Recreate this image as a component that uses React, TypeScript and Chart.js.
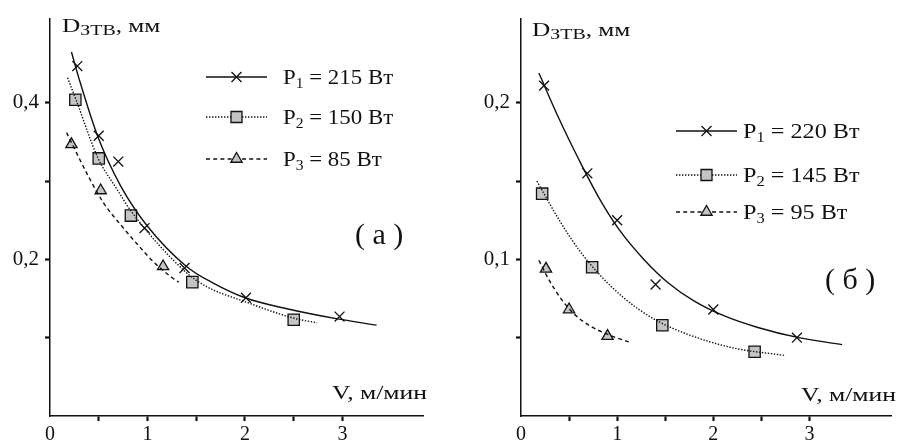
import React, { useEffect, useRef } from 'react';
import { Chart, registerables } from 'chart.js';

Chart.register(...registerables);

// ---------- Panel (a) ----------
const aP1CurveV = [0.22, 0.30, 0.49, 0.72, 0.99, 1.40, 1.67, 2.00, 2.43, 2.95, 3.35];
const aP1CurveD = [0.465, 0.430, 0.357, 0.295, 0.244, 0.191, 0.170, 0.151, 0.137, 0.124, 0.116];
const aP1PointsV = [0.28, 0.50, 0.70, 0.97, 1.38, 2.01, 2.97];
const aP1PointsD = [0.447, 0.358, 0.325, 0.240, 0.189, 0.151, 0.127];

const aP2CurveV = [0.18, 0.27, 0.49, 0.69, 0.83, 1.40, 1.61, 2.00, 2.50, 2.74];
const aP2CurveD = [0.432, 0.403, 0.330, 0.289, 0.262, 0.183, 0.165, 0.146, 0.125, 0.119];
const aP2PointsV = [0.26, 0.50, 0.83, 1.46, 2.50];
const aP2PointsD = [0.404, 0.329, 0.256, 0.171, 0.123];

const aP3CurveV = [0.17, 0.39, 0.55, 0.74, 0.92, 1.06, 1.26, 1.32];
const aP3CurveD = [0.362, 0.307, 0.272, 0.242, 0.216, 0.197, 0.176, 0.171];
const aP3PointsV = [0.22, 0.52, 1.16];
const aP3PointsD = [0.347, 0.288, 0.191];

const aPowers = ['215', '150', '85'];
const aYTicks = [0.1, 0.2, 0.3, 0.4];
const aYLabels = [0.2, 0.4];

// ---------- Panel (б) ----------
const bP1CurveV = [0.186, 0.402, 0.608, 0.814, 1.021, 1.278, 1.536, 1.794, 2.103, 2.464, 2.876, 3.340];
const bP1CurveD = [0.219, 0.189, 0.163, 0.139, 0.119, 0.100, 0.0848, 0.0737, 0.0642, 0.0565, 0.0502, 0.0456];
const bP1PointsV = [0.24, 0.69, 1.00, 1.40, 2.00, 2.87];
const bP1PointsD = [0.211, 0.155, 0.125, 0.084, 0.068, 0.050];

const bP2CurveV = [0.165, 0.402, 0.608, 0.814, 1.072, 1.381, 1.742, 2.206, 2.753];
const bP2CurveD = [0.150, 0.1247, 0.1057, 0.0905, 0.0753, 0.062, 0.052, 0.0435, 0.0386];
const bP2PointsV = [0.22, 0.74, 1.47, 2.43];
const bP2PointsD = [0.142, 0.095, 0.058, 0.041];

const bP3CurveV = [0.186, 0.299, 0.423, 0.557, 0.711, 0.918, 1.124];
const bP3CurveD = [0.0994, 0.0861, 0.0743, 0.0649, 0.0578, 0.0517, 0.0473];
const bP3PointsV = [0.26, 0.50, 0.90];
const bP3PointsD = [0.094, 0.068, 0.051];

const bPowers = ['220', '145', '95'];
const bYTicks = [0.05, 0.1, 0.15, 0.2];
const bYLabels = [0.1, 0.2];

// ---------- shared ----------
const xTickValues = [0, 0.5, 1, 1.5, 2, 2.5, 3];
const xLabelValues = [0, 1, 2, 3];
const seriesSubs = ['1', '2', '3'];

const FONT = "'Liberation Serif', 'Times New Roman', Times, serif";
const INK = '#111';
const MARK_FILL = '#c4c4c4';
const DASHES: number[][] = [[], [1.4, 1.6], [4, 3.2]];
const POINT_STYLES = ['crossRot', 'rect', 'triangle'];
const POINT_RADII = [7, 8, 6.5];

const zip = (vs: number[], ds: number[]) => vs.map((v, i) => ({ x: v, y: ds[i] }));
const near = (a: number, b: number) => Math.abs(a - b) < 1e-6;

function drawMarker(ctx: CanvasRenderingContext2D, kind: number, x: number, y: number) {
  ctx.save();
  ctx.strokeStyle = INK;
  ctx.fillStyle = MARK_FILL;
  ctx.lineWidth = 1.3;
  ctx.setLineDash([]);
  ctx.beginPath();
  if (kind === 0) {
    const o = 5;
    ctx.moveTo(x - o, y - o); ctx.lineTo(x + o, y + o);
    ctx.moveTo(x - o, y + o); ctx.lineTo(x + o, y - o);
    ctx.stroke();
  } else if (kind === 1) {
    ctx.rect(x - 5.5, y - 5.5, 11, 11);
    ctx.fill(); ctx.stroke();
  } else {
    const r = 6.5;
    ctx.moveTo(x, y - r);
    ctx.lineTo(x + r * 0.866, y + r * 0.5);
    ctx.lineTo(x - r * 0.866, y + r * 0.5);
    ctx.closePath();
    ctx.fill(); ctx.stroke();
  }
  ctx.restore();
}

type Panel = {
  curves: { x: number; y: number }[][];
  points: { x: number; y: number }[][];
  powers: string[];
  yTicks: number[];
  yLabels: number[];
  xMax: number;
  yMax: number;
  axisWidth: number;
  padRight: number;
  titleX: number; titleY: number;
  vRight: number; vY: number;
  legX1: number; legX2: number; legYs: number[]; legTextX: number; legScale: number;
  tag: string; tagX: number; tagY: number;
};

// main text + subscript + rest, with horizontal stretch sx
function sub(
  ctx: CanvasRenderingContext2D, main: string, s: string, rest: string,
  x: number, y: number, size: number, subSize: number, dy: number, sx: number,
) {
  ctx.save();
  ctx.translate(x, y);
  ctx.scale(sx, 1);
  ctx.font = `${size}px ${FONT}`;
  ctx.fillText(main, 0, 0);
  let cx = ctx.measureText(main).width;
  ctx.font = `${subSize}px ${FONT}`;
  ctx.fillText(s, cx, dy);
  cx += ctx.measureText(s).width;
  ctx.font = `${size}px ${FONT}`;
  ctx.fillText(rest, cx, 0);
  ctx.restore();
}

function overlay(p: Panel) {
  return {
    id: 'overlay',
    afterDraw(chart: any) {
      const ctx: CanvasRenderingContext2D = chart.ctx;
      ctx.save();
      ctx.fillStyle = INK;
      ctx.textBaseline = 'alphabetic';
      ctx.textAlign = 'left';
      // y title
      sub(ctx, 'D', 'ЗТВ', ', мм', p.titleX, p.titleY, 19, 15, 3, 1.33);
      // x title (right aligned)
      ctx.font = `19px ${FONT}`;
      const vText = 'V, м/мин';
      const vSx = 1.35;
      const vw = ctx.measureText(vText).width * vSx;
      ctx.save();
      ctx.translate(p.vRight - vw, p.vY);
      ctx.scale(vSx, 1);
      ctx.fillText(vText, 0, 0);
      ctx.restore();
      // legend
      p.legYs.forEach((ly, i) => {
        ctx.save();
        ctx.strokeStyle = INK;
        ctx.lineWidth = 1.4;
        ctx.setLineDash(DASHES[i]);
        ctx.beginPath();
        ctx.moveTo(p.legX1, ly);
        ctx.lineTo(p.legX2, ly);
        ctx.stroke();
        ctx.restore();
        drawMarker(ctx, i, (p.legX1 + p.legX2) / 2, ly);
        ctx.fillStyle = INK;
        sub(ctx, 'P', seriesSubs[i], ` = ${p.powers[i]} Вт`, p.legTextX, ly + 7, 22, 15, 4, p.legScale);
      });
      // panel tag
      ctx.font = `30px ${FONT}`;
      ctx.fillText(p.tag, p.tagX, p.tagY);
      ctx.restore();
    },
  };
}

function makeConfig(p: Panel): any {
  const datasets: any[] = [];
  p.curves.forEach((c, i) => {
    datasets.push({
      data: c,
      showLine: true,
      borderColor: INK,
      borderWidth: 1.4,
      borderDash: DASHES[i],
      pointRadius: 0,
      fill: false,
      cubicInterpolationMode: 'monotone',
    });
  });
  p.points.forEach((c, i) => {
    datasets.push({
      data: c,
      showLine: false,
      pointStyle: POINT_STYLES[i],
      pointRadius: POINT_RADII[i],
      pointBorderColor: INK,
      pointBackgroundColor: MARK_FILL,
      pointBorderWidth: 1.3,
    });
  });
  return {
    type: 'scatter',
    data: { datasets },
    options: {
      responsive: false,
      animation: false,
      events: [],
      layout: { padding: { top: 15, right: p.padRight, left: 0, bottom: 0 } },
      plugins: { legend: { display: false }, tooltip: { enabled: false } },
      scales: {
        x: {
          type: 'linear',
          min: 0,
          max: p.xMax,
          afterBuildTicks: (s: any) => { s.ticks = xTickValues.map((v) => ({ value: v })); },
          afterFit: (s: any) => { s.height = 32; },
          ticks: {
            autoSkip: false,
            maxRotation: 0,
            padding: 2,
            color: INK,
            font: { family: FONT, size: 20 },
            callback: (v: number) => (xLabelValues.some((l) => near(l, v)) ? String(v) : ''),
          },
          grid: {
            drawOnChartArea: false,
            drawTicks: true,
            tickLength: 5,
            tickWidth: 2.2,
            tickColor: (c: any) => (c.tick && near(c.tick.value, 0) ? 'rgba(0,0,0,0)' : INK),
          },
          border: { display: true, color: INK, width: 1.5 },
        },
        y: {
          type: 'linear',
          min: 0,
          max: p.yMax,
          afterBuildTicks: (s: any) => { s.ticks = p.yTicks.map((v) => ({ value: v })); },
          afterFit: (s: any) => { s.width = p.axisWidth; },
          ticks: {
            autoSkip: false,
            padding: 6,
            color: INK,
            font: { family: FONT, size: 21 },
            callback: (v: number) => (p.yLabels.some((l) => near(l, v)) ? v.toFixed(1).replace('.', ',') : ''),
          },
          grid: {
            drawOnChartArea: false,
            drawTicks: true,
            tickLength: 5,
            tickWidth: 2.2,
            tickColor: INK,
          },
          border: { display: true, color: INK, width: 1.5 },
        },
      },
    },
    plugins: [overlay(p)],
  };
}

const panelA: Panel = {
  curves: [zip(aP1CurveV, aP1CurveD), zip(aP2CurveV, aP2CurveD), zip(aP3CurveV, aP3CurveD)],
  points: [zip(aP1PointsV, aP1PointsD), zip(aP2PointsV, aP2PointsD), zip(aP3PointsV, aP3PointsD)],
  powers: aPowers,
  yTicks: aYTicks,
  yLabels: aYLabels,
  xMax: 3.826,
  yMax: 0.5076,
  axisWidth: 50,
  padRight: 27,
  titleX: 62, titleY: 32,
  vRight: 427, vY: 399,
  legX1: 206, legX2: 267, legYs: [77, 117, 159], legTextX: 283, legScale: 1.04,
  tag: '( a )', tagX: 355, tagY: 244,
};

const panelB: Panel = {
  curves: [zip(bP1CurveV, bP1CurveD), zip(bP2CurveV, bP2CurveD), zip(bP3CurveV, bP3CurveD)],
  points: [zip(bP1PointsV, bP1PointsD), zip(bP2PointsV, bP2PointsD), zip(bP3PointsV, bP3PointsD)],
  powers: bPowers,
  yTicks: bYTicks,
  yLabels: bYLabels,
  xMax: 3.856,
  yMax: 0.2538,
  axisWidth: 71,
  padRight: 6,
  titleX: 82, titleY: 36,
  vRight: 446, vY: 401,
  legX1: 226, legX2: 287, legYs: [131, 175, 212], legTextX: 293, legScale: 1.1,
  tag: '( б )', tagX: 375, tagY: 289,
};

function ChartCanvas({ panel, left, width }: { panel: Panel; left: number; width: number }) {
  const ref = useRef<HTMLCanvasElement | null>(null);
  useEffect(() => {
    if (!ref.current) return;
    const chart = new Chart(ref.current, makeConfig(panel));
    return () => chart.destroy();
  }, [panel]);
  return (
    <canvas
      ref={ref}
      width={width}
      height={448}
      style={{ position: 'absolute', left, top: 0, width, height: 448, display: 'block' }}
    />
  );
}

export default function App() {
  return (
    <div style={{ position: 'absolute', left: 0, top: 0, width: 901, height: 448, background: '#fff', overflow: 'hidden' }}>
      <ChartCanvas panel={panelA} left={0} width={450} />
      <ChartCanvas panel={panelB} left={450} width={451} />
    </div>
  );
}
